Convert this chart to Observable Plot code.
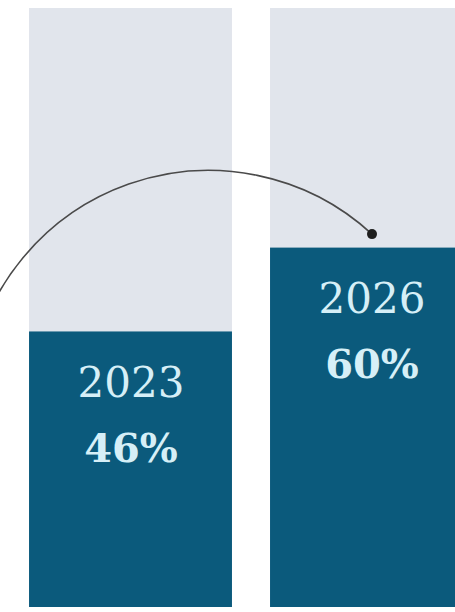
<!DOCTYPE html>
<html>
<head>
<meta charset="utf-8">
<script src="https://cdn.jsdelivr.net/npm/d3@7"></script>
<script src="https://cdn.jsdelivr.net/npm/@observablehq/plot@0.6"></script>
<style>
  html, body { margin: 0; padding: 0; background: #ffffff; overflow: hidden; }
  #chart svg { display: block; overflow: hidden; }
</style>
</head>
<body>
<div id="chart"></div>
<script>
// Data
const years = [2023, 2026];
const shares = [46, 60];             // percent
const yearLabels = ["2023", "2026"];
const shareLabels = ["46%", "60%"];

// Arc annotation: from an off-frame earlier point to the top of the 2026 bar
const arcFrom = {year: 2021, value: 36.4};
const arcTo = {year: 2026, value: 60};

const data = years.map((y, i) => ({year: y, share: shares[i], yearLabel: yearLabels[i], shareLabel: shareLabels[i]}));

const halfWidth = 1.263;
const teal = "#0b5a7c";
const gray = "#e1e5ec";
const textColor = "#d6eff7";
const serif = "'DejaVu Serif', 'Liberation Serif', serif";

const chart = Plot.plot({
  width: 455,
  height: 612,
  marginTop: 8,
  marginBottom: 5,
  marginLeft: 0,
  marginRight: 0,
  x: {domain: [2021.5, 2027.5], range: [10, 492], axis: null},
  y: {domain: [0, 100], axis: null},
  marks: [
    Plot.rect(data, {x1: d => d.year - halfWidth, x2: d => d.year + halfWidth, y1: 0, y2: 100, fill: gray}),
    Plot.rect(data, {x1: d => d.year - halfWidth, x2: d => d.year + halfWidth, y1: 0, y2: "share", fill: teal}),
    Plot.text(data, {x: "year", y: "share", text: "yearLabel", dy: 65, lineAnchor: "bottom", textAnchor: "middle",
      fill: textColor, fontSize: 42, fontFamily: serif}),
    Plot.text(data, {x: "year", y: "share", text: "shareLabel", dy: 130, lineAnchor: "bottom", textAnchor: "middle",
      fill: textColor, fontSize: 40, fontWeight: "bold", fontFamily: serif}),
    Plot.arrow([{}], {x1: arcFrom.year, y1: arcFrom.value, x2: arcTo.year, y2: arcTo.value, dy: -14,
      bend: 62, headLength: 0, stroke: "#4a4a4a", strokeWidth: 1.6}),
    Plot.dot([arcTo], {x: "year", y: "value", dy: -14, r: 5, fill: "#1e1e1e", stroke: "none"})
  ]
});
document.getElementById("chart").appendChild(chart);
</script>
</body>
</html>
